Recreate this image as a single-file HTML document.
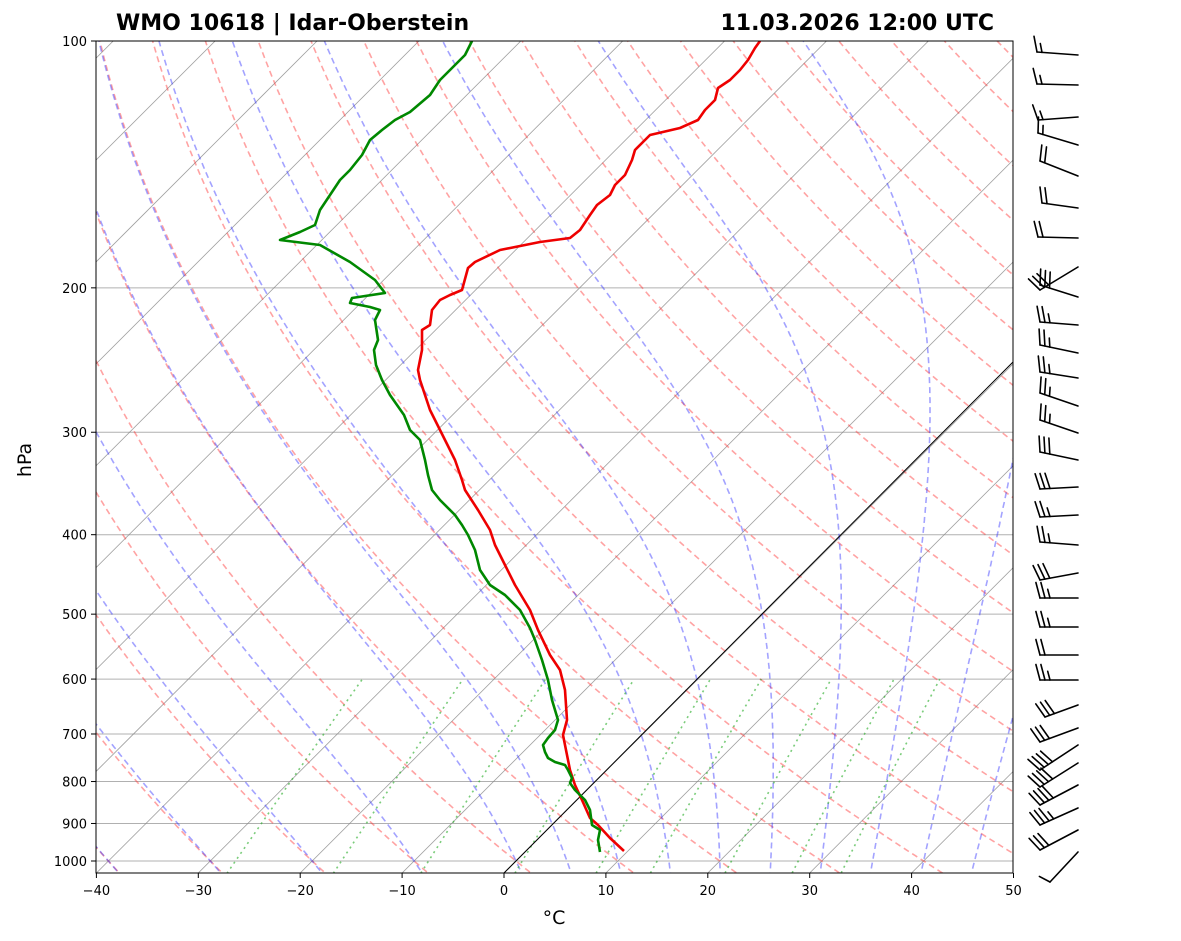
<!DOCTYPE html>
<html><head><meta charset="utf-8"><style>
html,body{margin:0;padding:0;background:#fff;}
svg{display:block;font-family:"DejaVu Sans","Liberation Sans",sans-serif;}
</style></head><body>
<svg id="s" width="1181" height="941" viewBox="0 0 1181 941" xmlns="http://www.w3.org/2000/svg">
<defs><clipPath id="c"><rect x="96" y="41" width="917" height="832"/></clipPath></defs>
<text x="116" y="30" font-size="22" font-weight="bold">WMO 10618 | Idar-Oberstein</text>
<text x="994" y="30" font-size="22" font-weight="bold" text-anchor="end">11.03.2026 12:00 UTC</text>
<g id="plot" clip-path="url(#c)"></g>
<rect x="96" y="41" width="917" height="832" fill="none" stroke="#000" stroke-width="1"/>
<g id="ticks" font-size="13"></g>
<text x="554" y="924" font-size="19" text-anchor="middle">°C</text>
<text transform="translate(31,460) rotate(-90)" font-size="19" text-anchor="middle">hPa</text>
<g id="barbs" stroke="#000" stroke-width="1.6" fill="none" stroke-linecap="round"></g>
</svg>
<script>
var S=10.19;
function Y(p){return 41+820*Math.log10(p/100);}
function X(T,p){return 504+S*T+(873-Y(p));}
var g=document.getElementById('plot'),h='';
function poly(pts,st){return '<polyline fill="none" points="'+pts.map(function(a){return a[0].toFixed(1)+','+a[1].toFixed(1)}).join(' ')+'" '+st+'/>';}
var P=[];for(var p=1050;p>=95;p-=5)P.push(p);
for(var q=100;q<=1000;q+=100)h+='<line x1="96" x2="1013" y1="'+Y(q)+'" y2="'+Y(q)+'" stroke="#b0b0b0" stroke-width="1"/>';
for(var T=-120;T<=50;T+=10){h+='<line x1="'+X(T,1050)+'" y1="'+Y(1050)+'" x2="'+X(T,95)+'" y2="'+Y(95)+'" stroke="#888" stroke-width="0.8" opacity="0.8"/>';}
for(var t0=-40;t0<=200;t0+=10){var th=t0+273.15,pts=[];P.forEach(function(p){pts.push([X(th*Math.pow(p/1000,0.2857)-273.15,p),Y(p)]);});h+=poly(pts,'stroke="#f33" stroke-opacity="0.45" stroke-width="1.6" stroke-dasharray="6,4"');}
function es(T){return 6.112*Math.exp(17.67*T/(T+243.5));}
function dTdp(T,p){var Tk=T+273.15,e=es(T),rs=0.622*e/(p-e),Lv=2.501e6,Rd=287.04,cp=1005.7;return (Rd*Tk+Lv*rs)/(p*(cp+Lv*Lv*rs*0.622/(Rd*Tk*Tk)));}
var m=[-40,-30,-20,-10,0,5,10,15,20,25,30,35,40,45];
m.forEach(function(t0){var T=t0,p=1000,pts=[[X(T,p),Y(p)]];
 var T2=t0;for(var pp=1000;pp<1050;pp+=2){T2+=dTdp(T2,pp)*2;}
 var lo=[[X(T2,1050),Y(1050)]];
 while(p>95){var dp=-2;var k1=dTdp(T,p),k2=dTdp(T+k1*dp/2,p+dp/2),k3=dTdp(T+k2*dp/2,p+dp/2),k4=dTdp(T+k3*dp,p+dp);T+=dp*(k1+2*k2+2*k3+k4)/6;p+=dp;pts.push([X(T,p),Y(p)]);}
 h+=poly(lo.concat(pts),'stroke="#33f" stroke-opacity="0.45" stroke-width="1.6" stroke-dasharray="6,4"');});
[0.0004,0.001,0.002,0.004,0.007,0.01,0.016,0.024,0.032].forEach(function(w){var pts=[];for(var p=1050;p>=600;p-=10){var e=w*p/(0.622+w),l=Math.log(e/6.112),Td=243.5*l/(17.67-l);pts.push([X(Td,p),Y(p)]);}h+=poly(pts,'stroke="#2a2" stroke-opacity="0.6" stroke-width="1.6" stroke-dasharray="2,4"');});
h+='<line x1="504" y1="873" x2="1013" y2="362" stroke="#000" stroke-width="1"/>';
var Tp=[[624,851],[610,838],[598,825],[590,818],[582,800],[575,785],[570,770],[565,745],[563,735],[567,720],[565,690],[560,670],[550,655],[538,630],[530,610],[515,585],[505,565],[495,545],[490,530],[478,510],[465,490],[462,480],[455,460],[445,440],[430,410],[420,380],[418,370],[422,350],[422,330],[430,325],[432,310],[440,300],[450,295],[462,290],[468,268],[475,262],[500,250],[540,242],[570,238],[580,230],[590,215],[597,205],[610,195],[615,185],[625,175],[632,160],[635,150],[645,140],[650,135],[680,128],[698,120],[705,110],[715,100],[718,88],[730,80],[740,70],[748,60],[755,48],[760,41]];
var Dp=[[600,852],[598,840],[600,830],[592,825],[590,810],[585,800],[575,790],[570,783],[572,778],[568,770],[565,765],[555,762],[548,758],[545,752],[543,745],[548,738],[555,730],[558,720],[552,700],[548,680],[542,660],[535,640],[530,628],[520,610],[505,595],[490,585],[480,570],[475,550],[468,535],[462,525],[455,515],[440,500],[432,490],[428,475],[425,460],[420,440],[410,430],[404,415],[397,405],[390,395],[382,380],[376,365],[374,350],[378,340],[375,320],[380,310],[370,307],[350,303],[352,298],[385,293],[375,280],[350,262],[320,245],[280,240],[300,232],[315,225],[320,210],[330,195],[340,180],[350,170],[362,155],[370,140],[382,130],[395,120],[410,112],[430,95],[440,80],[455,65],[465,55],[472,41]];
h+=poly(Tp,'stroke="#e00" stroke-width="2.6" stroke-linejoin="round"');
h+=poly(Dp,'stroke="#080" stroke-width="2.6" stroke-linejoin="round"');
g.innerHTML=h;
var t='';
for(var q=100;q<=1000;q+=100){var y=Y(q);t+='<line x1="91" x2="96" y1="'+y+'" y2="'+y+'" stroke="#000"/><text x="87" y="'+(y+5)+'" text-anchor="end">'+q+'</text>';}
for(var T=-40;T<=50;T+=10){var x=504+S*T;t+='<line x1="'+x+'" x2="'+x+'" y1="873" y2="878" stroke="#000"/><text x="'+x+'" y="895" text-anchor="middle">'+(T<0?'\u2212'+(-T):T)+'</text>';}
document.getElementById('ticks').innerHTML=t;
// [base y, end x, end y, long, half]
var B=[[55,1037,52,1,1],[85,1037,84,1,1],[117,1038,120,1,1],[145,1038,133,1,1],[176,1040,161,2,0],[208,1042,203,2,0],[238,1038,237,2,0],[267,1040,290,3,0],[297,1040,285,3,0],[325,1040,322,2,1],[353,1040,345,2,1],[378,1040,372,2,1],[406,1040,393,2,1],[433,1040,420,2,1],[460,1040,452,3,0],[487,1040,489,3,0],[515,1040,517,2,1],[545,1040,542,2,1],[573,1040,580,3,0],[598,1040,598,2,1],[627,1040,627,2,1],[655,1040,655,2,0],[680,1040,680,2,1],[705,1045,717,3,0],[728,1040,742,3,0],[745,1040,770,4,0],[763,1040,787,4,0],[785,1040,805,4,0],[808,1040,825,3,1],[830,1040,850,3,0],[852,1050,882,1,0]];
var b='';
B.forEach(function(d){var bx=1078,by=d[0],ex=d[1],ey=d[2];var L0=Math.hypot(ex-bx,ey-by),ux=(ex-bx)/L0,uy=(ey-by)/L0;
 b+='<line x1="'+bx+'" y1="'+by+'" x2="'+ex+'" y2="'+ey+'"/>';
 var a=Math.atan2(uy,ux)+75*Math.PI/180,fx=Math.cos(a),fy=Math.sin(a);
 var n=d[3]+d[4];
 for(var i=0;i<n;i++){var sx=ex-ux*5*i,sy=ey-uy*5*i,L=(i>=d[3])?9:16;if(d[3]==1&&d[4]==0&&i==0&&d[0]>840){L=12;}b+='<line x1="'+sx.toFixed(1)+'" y1="'+sy.toFixed(1)+'" x2="'+(sx+fx*L).toFixed(1)+'" y2="'+(sy+fy*L).toFixed(1)+'"/>';}});
document.getElementById('barbs').innerHTML=b;
</script>
</body></html>
